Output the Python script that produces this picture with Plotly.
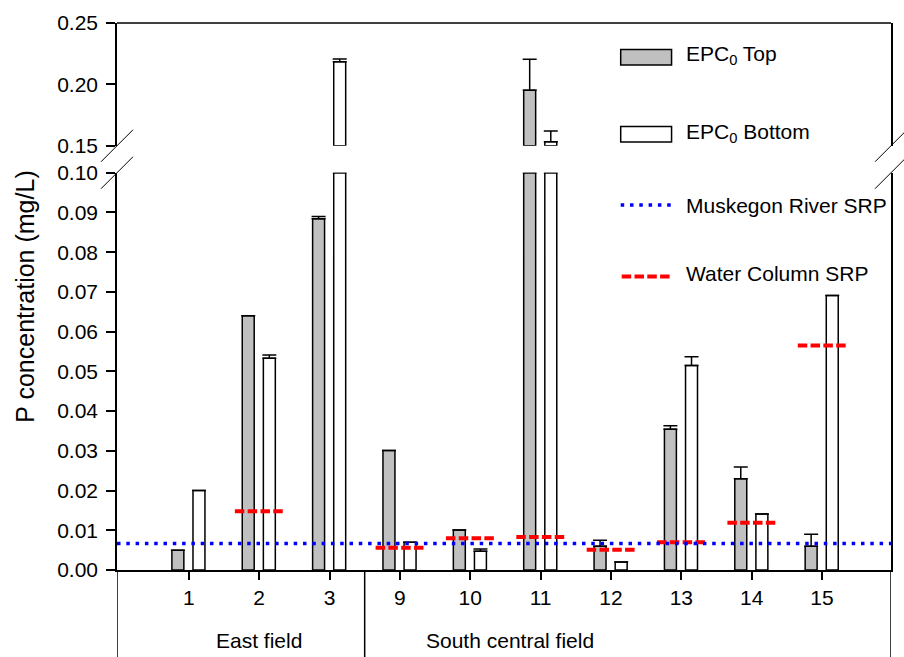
import plotly.graph_objects as go
import numpy as np

# ---------------- data ----------------
sites = ["1", "2", "3", "9", "10", "11", "12", "13", "14", "15"]
group_names = ["East field", "South central field"]
group_sizes = [3, 7]
group_label_pos = [1.0, 4.56]

epc_top = [0.0050, 0.0640, 0.0884, 0.0301, 0.0101, 0.1953, 0.0060, 0.0354, 0.0230, 0.0060]
epc_top_err = [None, None, 0.0006, None, None, 0.0252, 0.0015, 0.0009, 0.0029, 0.0030]
epc_bottom = [0.0200, 0.0533, 0.2185, 0.0070, 0.0047, 0.1533, 0.0020, 0.0515, 0.0141, 0.0691]
epc_bottom_err = [None, 0.0008, 0.0022, None, 0.0006, 0.0087, None, 0.0022, None, None]
water_column_srp = [None, 0.0148, None, 0.0056, 0.0080, 0.0083, 0.0051, 0.0070, 0.0119, 0.0565]
river_srp = 0.0067

lower_ticks = [0.00, 0.01, 0.02, 0.03, 0.04, 0.05, 0.06, 0.07, 0.08, 0.09, 0.10]
upper_ticks = [0.15, 0.20, 0.25]
break_low, break_high, y_max = 0.10, 0.15, 0.25

# ---------------- layout constants ----------------
W, H = 904, 657
ML, MR, MT, MB = 117, 11, 22, 87
PW, PH = W - ML - MR, H - MT - MB
FONT = "Liberation Sans, Arial, sans-serif"
X_RANGE = [-1.02, 9.98]
BAR_W = 0.17
TOP_OFF = -0.155 - BAR_W / 2
BOT_OFF = 0.145 - BAR_W / 2
SEG_HALF = 0.345
lower_dom = [0, (570 - 172) / PH]
upper_dom = [(570 - 145) / PH, 1]

def pxx(x):
    return (x - ML) / PW

def pxy(y):
    return (H - MB - y) / PH

pos = list(range(len(sites)))

def lower_vals(v):
    return [min(a, break_low) for a in v]

def lower_err(v, e):
    return [err if a <= break_low else None for a, err in zip(v, e)]

def upper_vals(v):
    return [a - break_high if a > break_high else None for a in v]

def upper_err(v, e):
    return [err if a > break_high else None for a, err in zip(v, e)]

fig = go.Figure()

series = [
    ("EPC0 Top", epc_top, epc_top_err, "#c0c0c0", TOP_OFF),
    ("EPC0 Bottom", epc_bottom, epc_bottom_err, "#ffffff", BOT_OFF),
]
for name, vals, errs, color, off in series:
    fig.add_trace(go.Bar(
        x=pos, y=lower_vals(vals), width=BAR_W, offset=off, name=name,
        marker=dict(color=color, line=dict(color="black", width=1.5)),
        error_y=dict(type="data", array=lower_err(vals, errs), symmetric=False,
                     color="black", thickness=1.5, width=7),
        xaxis="x", yaxis="y", showlegend=False))
    fig.add_trace(go.Bar(
        x=pos, y=upper_vals(vals), base=break_high, width=BAR_W, offset=off, name=name,
        marker=dict(color=color, line=dict(color="black", width=1.5)),
        error_y=dict(type="data", array=upper_err(vals, errs), symmetric=False,
                     color="black", thickness=1.5, width=7),
        xaxis="x", yaxis="y2", showlegend=False))

# water column SRP segments
seg_x, seg_y = [], []
for p, v in zip(pos, water_column_srp):
    if v is None:
        continue
    seg_x += [p - SEG_HALF, p + SEG_HALF, None]
    seg_y += [v, v, None]
fig.add_trace(go.Scatter(x=seg_x, y=seg_y, mode="lines", name="Water Column SRP",
                         line=dict(color="red", width=4, dash="9.5px,3.3px"),
                         xaxis="x", yaxis="y", showlegend=False))

shapes = []
# Muskegon River SRP line
shapes.append(dict(type="line", xref="x domain", yref="y", x0=0, x1=1,
                   y0=river_srp, y1=river_srp,
                   line=dict(color="blue", width=3.5, dash="3.5px,5.8px"), layer="above"))
# top border
shapes.append(dict(type="line", xref="paper", yref="paper", x0=0, x1=1, y0=1, y1=1,
                   line=dict(color="black", width=1.5)))
# break marks
for xa in [0, 1]:
    for ya in [upper_dom[0], lower_dom[1]]:
        shapes.append(dict(type="line", xref="paper", yref="paper",
                           xsizemode="pixel", ysizemode="pixel",
                           xanchor=xa, yanchor=ya, x0=-16, x1=16, y0=-16, y1=16,
                           line=dict(color="black", width=1)))
# group separators below the axis
bounds = [X_RANGE[0]]
acc = -0.5
for n in group_sizes:
    acc += n
    bounds.append(acc)
bounds[-1] = X_RANGE[1]
for b in bounds:
    shapes.append(dict(type="line", xref="x", yref="paper", x0=b, x1=b, y0=0,
                       y1=-0.17, line=dict(color="black", width=1.5)))

# legend (drawn)
shapes.append(dict(type="rect", xref="paper", yref="paper", x0=pxx(622), x1=pxx(673),
                   y0=pxy(64), y1=pxy(48.5), fillcolor="#c0c0c0",
                   line=dict(color="black", width=1.5)))
shapes.append(dict(type="rect", xref="paper", yref="paper", x0=pxx(622), x1=pxx(673),
                   y0=pxy(141.3), y1=pxy(125.8), fillcolor="white",
                   line=dict(color="black", width=1.5)))
shapes.append(dict(type="line", xref="paper", yref="paper", x0=pxx(622), x1=pxx(673),
                   y0=pxy(204.3), y1=pxy(204.3),
                   line=dict(color="blue", width=3.5, dash="3.5px,5.8px")))
shapes.append(dict(type="line", xref="paper", yref="paper", x0=pxx(623), x1=pxx(673),
                   y0=pxy(276), y1=pxy(276),
                   line=dict(color="red", width=4, dash="9.5px,3.3px")))

annotations = []
leg_items = [("EPC<sub>0</sub> Top", 54), ("EPC<sub>0</sub> Bottom", 132),
             ("Muskegon River SRP", 204.5), ("Water Column SRP", 272.5)]
for txt, yy in leg_items:
    annotations.append(dict(text=txt, xref="paper", yref="paper", x=pxx(685), y=pxy(yy),
                            xanchor="left", yanchor="middle", showarrow=False,
                            font=dict(family=FONT, size=21, color="black")))
for name, xp in zip(group_names, group_label_pos):
    annotations.append(dict(text=name, xref="x", yref="paper", x=xp, y=pxy(641),
                            xanchor="center", yanchor="middle", showarrow=False,
                            font=dict(family=FONT, size=21, color="black")))
annotations.append(dict(text="P concentration (mg/L)", xref="paper", yref="paper",
                        x=pxx(24), y=0.5, textangle=-90, xanchor="center", yanchor="middle",
                        showarrow=False, font=dict(family=FONT, size=25, color="black")))

axis_common = dict(showgrid=False, zeroline=False, showline=True, linecolor="black",
                   linewidth=1.5, ticks="outside", ticklen=9, tickwidth=1.5,
                   tickcolor="black", tickfont=dict(family=FONT, size=21, color="black"))

fig.update_layout(
    width=W, height=H,
    margin=dict(l=ML, r=MR, t=MT, b=MB),
    paper_bgcolor="white", plot_bgcolor="white",
    barmode="overlay",
    showlegend=False,
    font=dict(family=FONT, size=21, color="black"),
    xaxis=dict(range=X_RANGE, tickmode="array", tickvals=pos, ticktext=sites,
               anchor="y", ticklen=8, **{k: v for k, v in axis_common.items() if k != "ticklen"}),
    yaxis=dict(domain=lower_dom, range=[0, break_low], tickmode="array",
               tickvals=lower_ticks, tickformat=".2f", anchor="x", mirror=True,
               ticklabelstandoff=4, **axis_common),
    yaxis2=dict(domain=upper_dom, range=[break_high, y_max], tickmode="array",
                tickvals=upper_ticks, tickformat=".2f", anchor="x", mirror=True,
                ticklabelstandoff=4, **axis_common),
    shapes=shapes,
    annotations=annotations,
)

fig.write_html("out.html")
